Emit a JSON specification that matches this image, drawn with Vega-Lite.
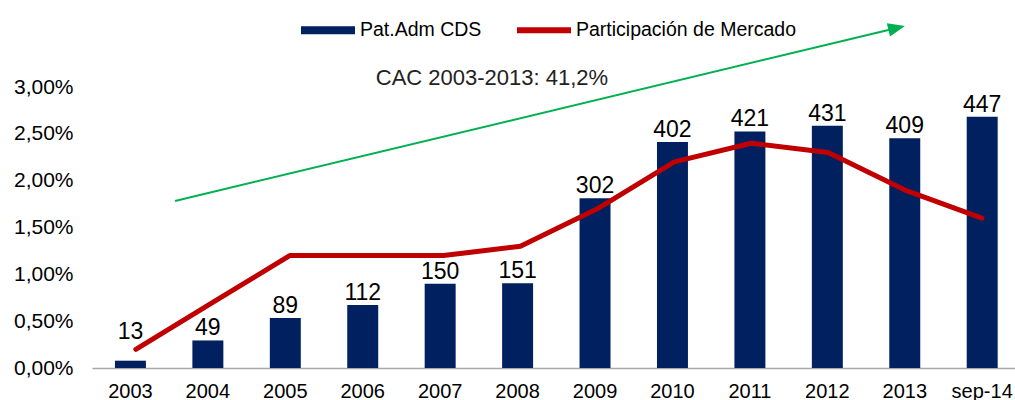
{
  "$schema": "https://vega.github.io/schema/vega-lite/v6.json",
  "width": 923,
  "height": 281,
  "autosize": {"type": "none"},
  "padding": {"left": 92, "top": 87, "right": 0, "bottom": 32},
  "background": "white",
  "config": {"view": {"stroke": null}, "font": "Liberation Sans"},
  "datasets": {
    "main": [
      {"year": "2003", "cds": 13, "pct": 0.002},
      {"year": "2004", "cds": 49, "pct": 0.007},
      {"year": "2005", "cds": 89, "pct": 0.012},
      {"year": "2006", "cds": 112, "pct": 0.012},
      {"year": "2007", "cds": 150, "pct": 0.012},
      {"year": "2008", "cds": 151, "pct": 0.013},
      {"year": "2009", "cds": 302, "pct": 0.017},
      {"year": "2010", "cds": 402, "pct": 0.022},
      {"year": "2011", "cds": 421, "pct": 0.024},
      {"year": "2012", "cds": 431, "pct": 0.023},
      {"year": "2013", "cds": 409, "pct": 0.019},
      {"year": "sep-14", "cds": 447, "pct": 0.016}
    ],
    "anno": [
      {"x0": 1.079, "y0": 0.01783, "x1": 10.462, "y1": 0.0363, "tx": 5.2, "ty": 0.0302, "label": "CAC 2003-2013: 41,2%"}
    ]
  },
  "layer": [
    {
      "data": {"name": "main"},
      "encoding": {
        "x": {
          "field": "year", "type": "nominal", "sort": null,
          "scale": {"paddingInner": 0.6, "paddingOuter": 0.26, "align": 0.57},
          "axis": {"title": null, "labelAngle": 0, "labelFontSize": 20, "labelColor": "black", "labelFont": "Liberation Sans", "ticks": false, "domainColor": "#A6A6A6", "domainWidth": 1.5, "labelPadding": 13, "grid": false}
        }
      },
      "layer": [
        {
          "mark": {"type": "bar"},
          "encoding": {
            "y": {"field": "cds", "type": "quantitative", "scale": {"domain": [0, 500]}, "axis": null},
            "color": {
              "datum": "Pat.Adm CDS", "type": "nominal",
              "scale": {"domain": ["Pat.Adm CDS", "Participación de Mercado"], "range": ["#002060", "#C00000"]},
              "legend": {
                "orient": "none", "legendX": 209, "legendY": -84, "direction": "horizontal", "title": null,
                "labelFontSize": 19.5, "labelFont": "Liberation Sans", "labelColor": "black", "labelLimit": 400,
                "symbolSize": 2916, "symbolType": "M-1,-0.15H1V0.15H-1Z", "labelOffset": 5, "columnPadding": 35,
                "symbolStrokeWidth": 0,
                "encode": {
                  "symbols": {
                    "update": {
                      "shape": {"signal": "datum.value === 'Pat.Adm CDS' ? 'M-1,-0.15H1V0.15H-1Z' : 'M-1,-0.11H1V0.11H-1Z'"},
                      "fill": {"signal": "datum.value === 'Pat.Adm CDS' ? '#002060' : '#C00000'"},
                      "stroke": {"value": "transparent"},
                      "opacity": {"value": 1}
                    }
                  }
                }
              }
            }
          }
        },
        {
          "transform": [{"filter": "datum.year !== '2003'"}],
          "mark": {"type": "text", "dy": -5, "baseline": "alphabetic", "fontSize": 23, "color": "black", "font": "Liberation Sans"},
          "encoding": {
            "y": {"field": "cds", "type": "quantitative"},
            "text": {"field": "cds", "type": "quantitative"}
          }
        },
        {
          "transform": [{"filter": "datum.year === '2003'"}],
          "mark": {"type": "text", "dy": -22, "baseline": "alphabetic", "fontSize": 23, "color": "black", "font": "Liberation Sans"},
          "encoding": {
            "y": {"field": "cds", "type": "quantitative"},
            "text": {"field": "cds", "type": "quantitative"}
          }
        }
      ]
    },
    {
      "data": {"name": "main"},
      "mark": {"type": "line", "strokeWidth": 5, "strokeCap": "round", "strokeJoin": "round"},
      "encoding": {
        "x": {"field": "year", "type": "nominal", "sort": null, "scale": {"paddingInner": 0.6, "paddingOuter": 0.26, "align": 0.57}, "axis": null},
        "y": {
          "field": "pct", "type": "quantitative", "scale": {"domain": [0, 0.03]},
          "axis": {"orient": "left", "title": null, "values": [0, 0.005, 0.01, 0.015, 0.02, 0.025, 0.03], "labelExpr": "replace(format(datum.value, '.2%'), '.', ',')", "labelFontSize": 21, "labelFont": "Liberation Sans", "labelColor": "black", "domain": false, "ticks": false, "grid": false, "labelPadding": 19}
        },
        "color": {"datum": "Participación de Mercado", "type": "nominal"}
      }
    },
    {
      "data": {"name": "anno"},
      "layer": [
        {
          "mark": {"type": "rule", "color": "#00B050", "strokeWidth": 2},
          "encoding": {
            "x": {"field": "x0", "type": "quantitative", "scale": {"domain": [0, 12]}, "axis": null},
            "y": {"field": "y0", "type": "quantitative", "scale": {"domain": [0, 0.03]}, "axis": null},
            "x2": {"field": "x1"},
            "y2": {"field": "y1"}
          }
        },
        {
          "mark": {"type": "point", "shape": "M-1,-0.8L1,0L-1,0.8Z", "size": 289, "filled": true, "color": "#00B050", "opacity": 1, "angle": 346.5},
          "encoding": {
            "x": {"field": "x1", "type": "quantitative"},
            "y": {"field": "y1", "type": "quantitative"}
          }
        },
        {
          "mark": {"type": "text", "font": "Liberation Sans", "fontSize": 22, "color": "#222222", "baseline": "alphabetic", "align": "center"},
          "encoding": {
            "x": {"field": "tx", "type": "quantitative"},
            "y": {"field": "ty", "type": "quantitative"},
            "text": {"field": "label"}
          }
        }
      ]
    }
  ],
  "resolve": {"scale": {"x": "independent", "y": "independent"}}
}
